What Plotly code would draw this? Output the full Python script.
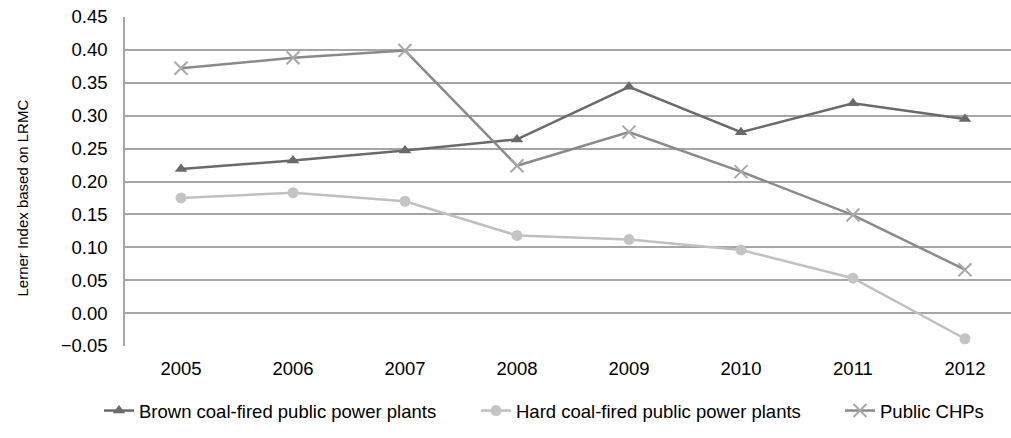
import plotly.graph_objects as go

years = ["2005", "2006", "2007", "2008", "2009", "2010", "2011", "2012"]
brown_coal = [0.219, 0.232, 0.247, 0.264, 0.344, 0.275, 0.319, 0.295]
hard_coal = [0.175, 0.183, 0.170, 0.118, 0.112, 0.096, 0.053, -0.039]
public_chps = [0.372, 0.388, 0.399, 0.224, 0.275, 0.215, 0.149, 0.066]
y_ticks = [-0.05, 0.0, 0.05, 0.10, 0.15, 0.20, 0.25, 0.30, 0.35, 0.40, 0.45]

FONT = "Liberation Sans, Arial, sans-serif"

fig = go.Figure()

fig.add_trace(go.Scatter(
    x=years, y=brown_coal, name="Brown coal-fired public power plants",
    mode="lines+markers", legend="legend",
    line=dict(color="#6a6a6a", width=2.5),
    marker=dict(symbol="triangle-up", size=11, color="#6a6a6a"),
))
fig.add_trace(go.Scatter(
    x=years, y=hard_coal, name="Hard coal-fired public power plants",
    mode="lines+markers", legend="legend2",
    line=dict(color="#c0c0c0", width=2.5),
    marker=dict(symbol="circle", size=11, color="#c4c4c4"),
))
fig.add_trace(go.Scatter(
    x=years, y=public_chps, name="Public CHPs",
    mode="lines+markers", legend="legend3",
    line=dict(color="#8a8a8a", width=2.5),
    marker=dict(symbol="x-thin", size=13, color="#a8a8a8",
                line=dict(color="#a8a8a8", width=2)),
))


def legend_at(x_px):
    # one legend box per series so the spacing matches the original
    return dict(orientation="h", xref="container", yref="container",
                x=x_px / 1011, xanchor="left", y=27 / 438, yanchor="middle",
                font=dict(size=18.5), itemwidth=30)


fig.update_layout(
    width=1011, height=438,
    margin=dict(l=125, r=0, t=17, b=92, autoexpand=False),
    plot_bgcolor="white", paper_bgcolor="white",
    font=dict(family=FONT, size=18.5, color="black"),
    showlegend=True,
    legend=legend_at(99),
    legend2=legend_at(476),
    legend3=legend_at(840),
    xaxis=dict(
        type="category", range=[-0.5, 7.411],
        showline=False, showgrid=False, ticks="outside", ticklen=6,
        tickcolor="white", tickfont=dict(size=18.5),
    ),
    yaxis=dict(
        range=[-0.05, 0.45], tickvals=y_ticks, tickformat=".2f",
        showgrid=True, gridcolor="#a6a6a6", gridwidth=1.5,
        showline=True, linecolor="#a6a6a6", linewidth=1.5,
        zeroline=False, ticks="outside", ticklen=12, tickcolor="white",
        tickfont=dict(size=18.5),
    ),
    annotations=[dict(
        text="Lerner Index based on LRMC", textangle=-90,
        xref="paper", yref="paper", x=-0.116, y=0.449,
        xanchor="center", yanchor="middle", showarrow=False,
        font=dict(size=15),
    )],
)

# page has a default body margin; remove it so the chart sits at (0, 0)
fig.write_html("out.html", config={"displayModeBar": False},
               post_script="document.body.style.margin='0';")
